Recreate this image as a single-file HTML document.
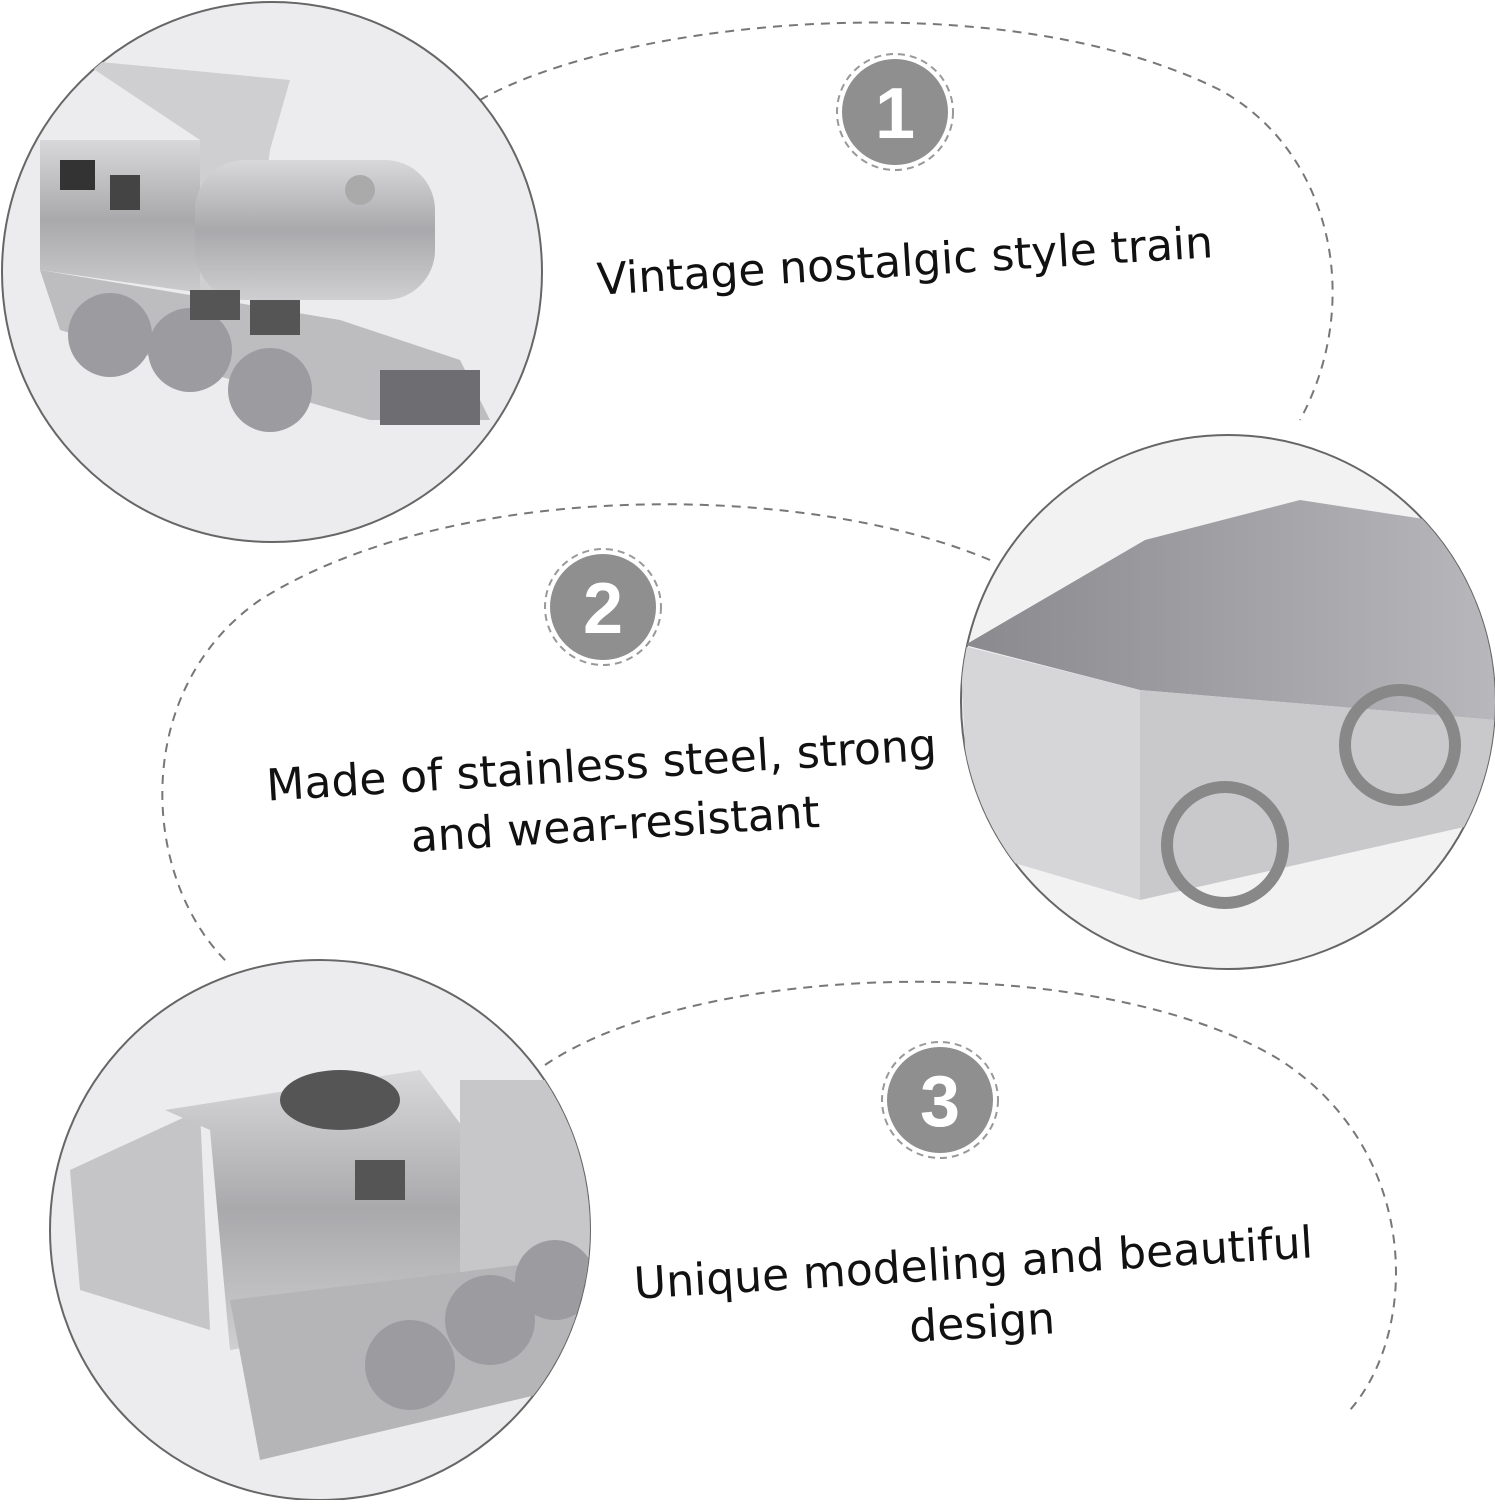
<!DOCTYPE html>
<html><head><style>
html,body{margin:0;padding:0;background:#fff;}
.t{font-family:"DejaVu Sans","Liberation Sans",sans-serif;fill:#111;}
</style></head><body>
<svg width="1495" height="1500" viewBox="0 0 1495 1500" xmlns="http://www.w3.org/2000/svg">
<defs>
<linearGradient id="m" x1="0" y1="0" x2="0" y2="1"><stop offset="0" stop-color="#d8d8da"/><stop offset="0.5" stop-color="#a9a9ac"/><stop offset="1" stop-color="#cfcfd1"/></linearGradient>
<linearGradient id="in" x1="0" y1="0" x2="1" y2="0"><stop offset="0" stop-color="#8a8a8e"/><stop offset="1" stop-color="#b8b8bc"/></linearGradient>
<clipPath id="c1"><circle cx="272" cy="272" r="270"/></clipPath>
<clipPath id="c2"><circle cx="1228" cy="702" r="267"/></clipPath>
<clipPath id="c3"><circle cx="320" cy="1230" r="270"/></clipPath>
</defs>
<g fill="none" stroke="#777" stroke-width="2" stroke-dasharray="9 7">
<path d="M480,100 C620,20 1000,-20 1220,90 C1330,150 1365,300 1300,420"/>
<path d="M990,560 C800,480 450,480 260,600 C130,690 140,880 230,965"/>
<path d="M545,1065 C700,960 1100,950 1280,1060 C1420,1150 1420,1330 1350,1410"/>
</g>
<!-- circle 1 -->
<circle cx="272" cy="272" r="270" fill="#ececee" stroke="#666" stroke-width="2"/>
<g clip-path="url(#c1)">
<path d="M40 140 L250 140 L250 300 L40 270 Z" fill="url(#m)"/>
<path d="M80 60 L290 80 L270 150 L250 300 L200 290 L200 140 Z" fill="#cfcfd2"/>
<rect x="195" y="160" width="240" height="140" rx="50" fill="url(#m)"/>
<path d="M40 270 L340 320 L460 360 L490 420 L370 420 L60 330 Z" fill="#bdbdc0"/>
<rect x="380" y="370" width="100" height="55" fill="#6e6e72"/>
<circle cx="110" cy="335" r="42" fill="#9c9ca0"/>
<circle cx="190" cy="350" r="42" fill="#9c9ca0"/>
<circle cx="270" cy="390" r="42" fill="#9c9ca0"/>
<rect x="60" y="160" width="35" height="30" fill="#333"/><rect x="110" y="175" width="30" height="35" fill="#444"/>
<rect x="190" y="290" width="50" height="30" fill="#555"/><rect x="250" y="300" width="50" height="35" fill="#555"/>
<circle cx="360" cy="190" r="15" fill="#aaa"/>
</g>
<!-- circle 2 -->
<circle cx="1228" cy="702" r="267" fill="#f2f2f3" stroke="#666" stroke-width="2"/>
<g clip-path="url(#c2)">
<path d="M965 645 L1145 540 L1300 500 L1495 530 L1495 720 L1140 690 Z" fill="url(#in)"/>
<path d="M960 645 L1140 690 L1140 900 L970 850 Z" fill="#d6d6d8"/>
<path d="M1140 690 L1495 720 L1495 820 L1140 900 Z" fill="#c9c9cc"/>
<circle cx="1225" cy="845" r="58" fill="none" stroke="#888" stroke-width="12"/>
<circle cx="1400" cy="745" r="55" fill="none" stroke="#888" stroke-width="12"/>
</g>
<!-- circle 3 -->
<circle cx="320" cy="1230" r="270" fill="#ececee" stroke="#666" stroke-width="2"/>
<g clip-path="url(#c3)">
<path d="M70 1170 L200 1110 L210 1330 L80 1290 Z" fill="#c5c5c8"/>
<path d="M165 1110 L420 1070 L480 1150 L470 1310 L230 1350 L210 1130 Z" fill="url(#m)"/>
<rect x="460" y="1080" width="140" height="200" fill="#c7c7ca"/>
<path d="M230 1300 L560 1260 L600 1380 L260 1460 Z" fill="#b5b5b8"/>
<circle cx="410" cy="1365" r="45" fill="#9c9ca0"/>
<circle cx="490" cy="1320" r="45" fill="#9c9ca0"/>
<circle cx="555" cy="1280" r="40" fill="#9c9ca0"/>
<ellipse cx="340" cy="1100" rx="60" ry="30" fill="#555"/>
<rect x="355" y="1160" width="50" height="40" fill="#555"/>
</g>
<!-- number badges -->
<g>
<circle cx="895" cy="112" r="58" fill="#fff" stroke="#999" stroke-width="2" stroke-dasharray="7 5"/>
<circle cx="895" cy="112" r="53" fill="#8f8f8f"/>
<text x="895" y="138" text-anchor="middle" font-family="Liberation Sans,sans-serif" font-weight="bold" font-size="72" fill="#fff">1</text>
<circle cx="603" cy="607" r="58" fill="#fff" stroke="#999" stroke-width="2" stroke-dasharray="7 5"/>
<circle cx="603" cy="607" r="53" fill="#8f8f8f"/>
<text x="603" y="633" text-anchor="middle" font-family="Liberation Sans,sans-serif" font-weight="bold" font-size="72" fill="#fff">2</text>
<circle cx="940" cy="1100" r="58" fill="#fff" stroke="#999" stroke-width="2" stroke-dasharray="7 5"/>
<circle cx="940" cy="1100" r="53" fill="#8f8f8f"/>
<text x="940" y="1126" text-anchor="middle" font-family="Liberation Sans,sans-serif" font-weight="bold" font-size="72" fill="#fff">3</text>
</g>
<text class="t" x="905" y="276" font-size="44" text-anchor="middle" transform="rotate(-3.5 905 262)">Vintage nostalgic style train</text>
<g transform="rotate(-3.5 605 790)">
<text class="t" x="603" y="780" font-size="44" text-anchor="middle">Made of stainless steel, strong</text>
<text class="t" x="613" y="840" font-size="44" text-anchor="middle">and wear-resistant</text>
</g>
<g transform="rotate(-3.5 975 1290)">
<text class="t" x="975" y="1278" font-size="44" text-anchor="middle">Unique modeling and beautiful</text>
<text class="t" x="980" y="1338" font-size="44" text-anchor="middle">design</text>
</g>
</svg>
</body></html>
